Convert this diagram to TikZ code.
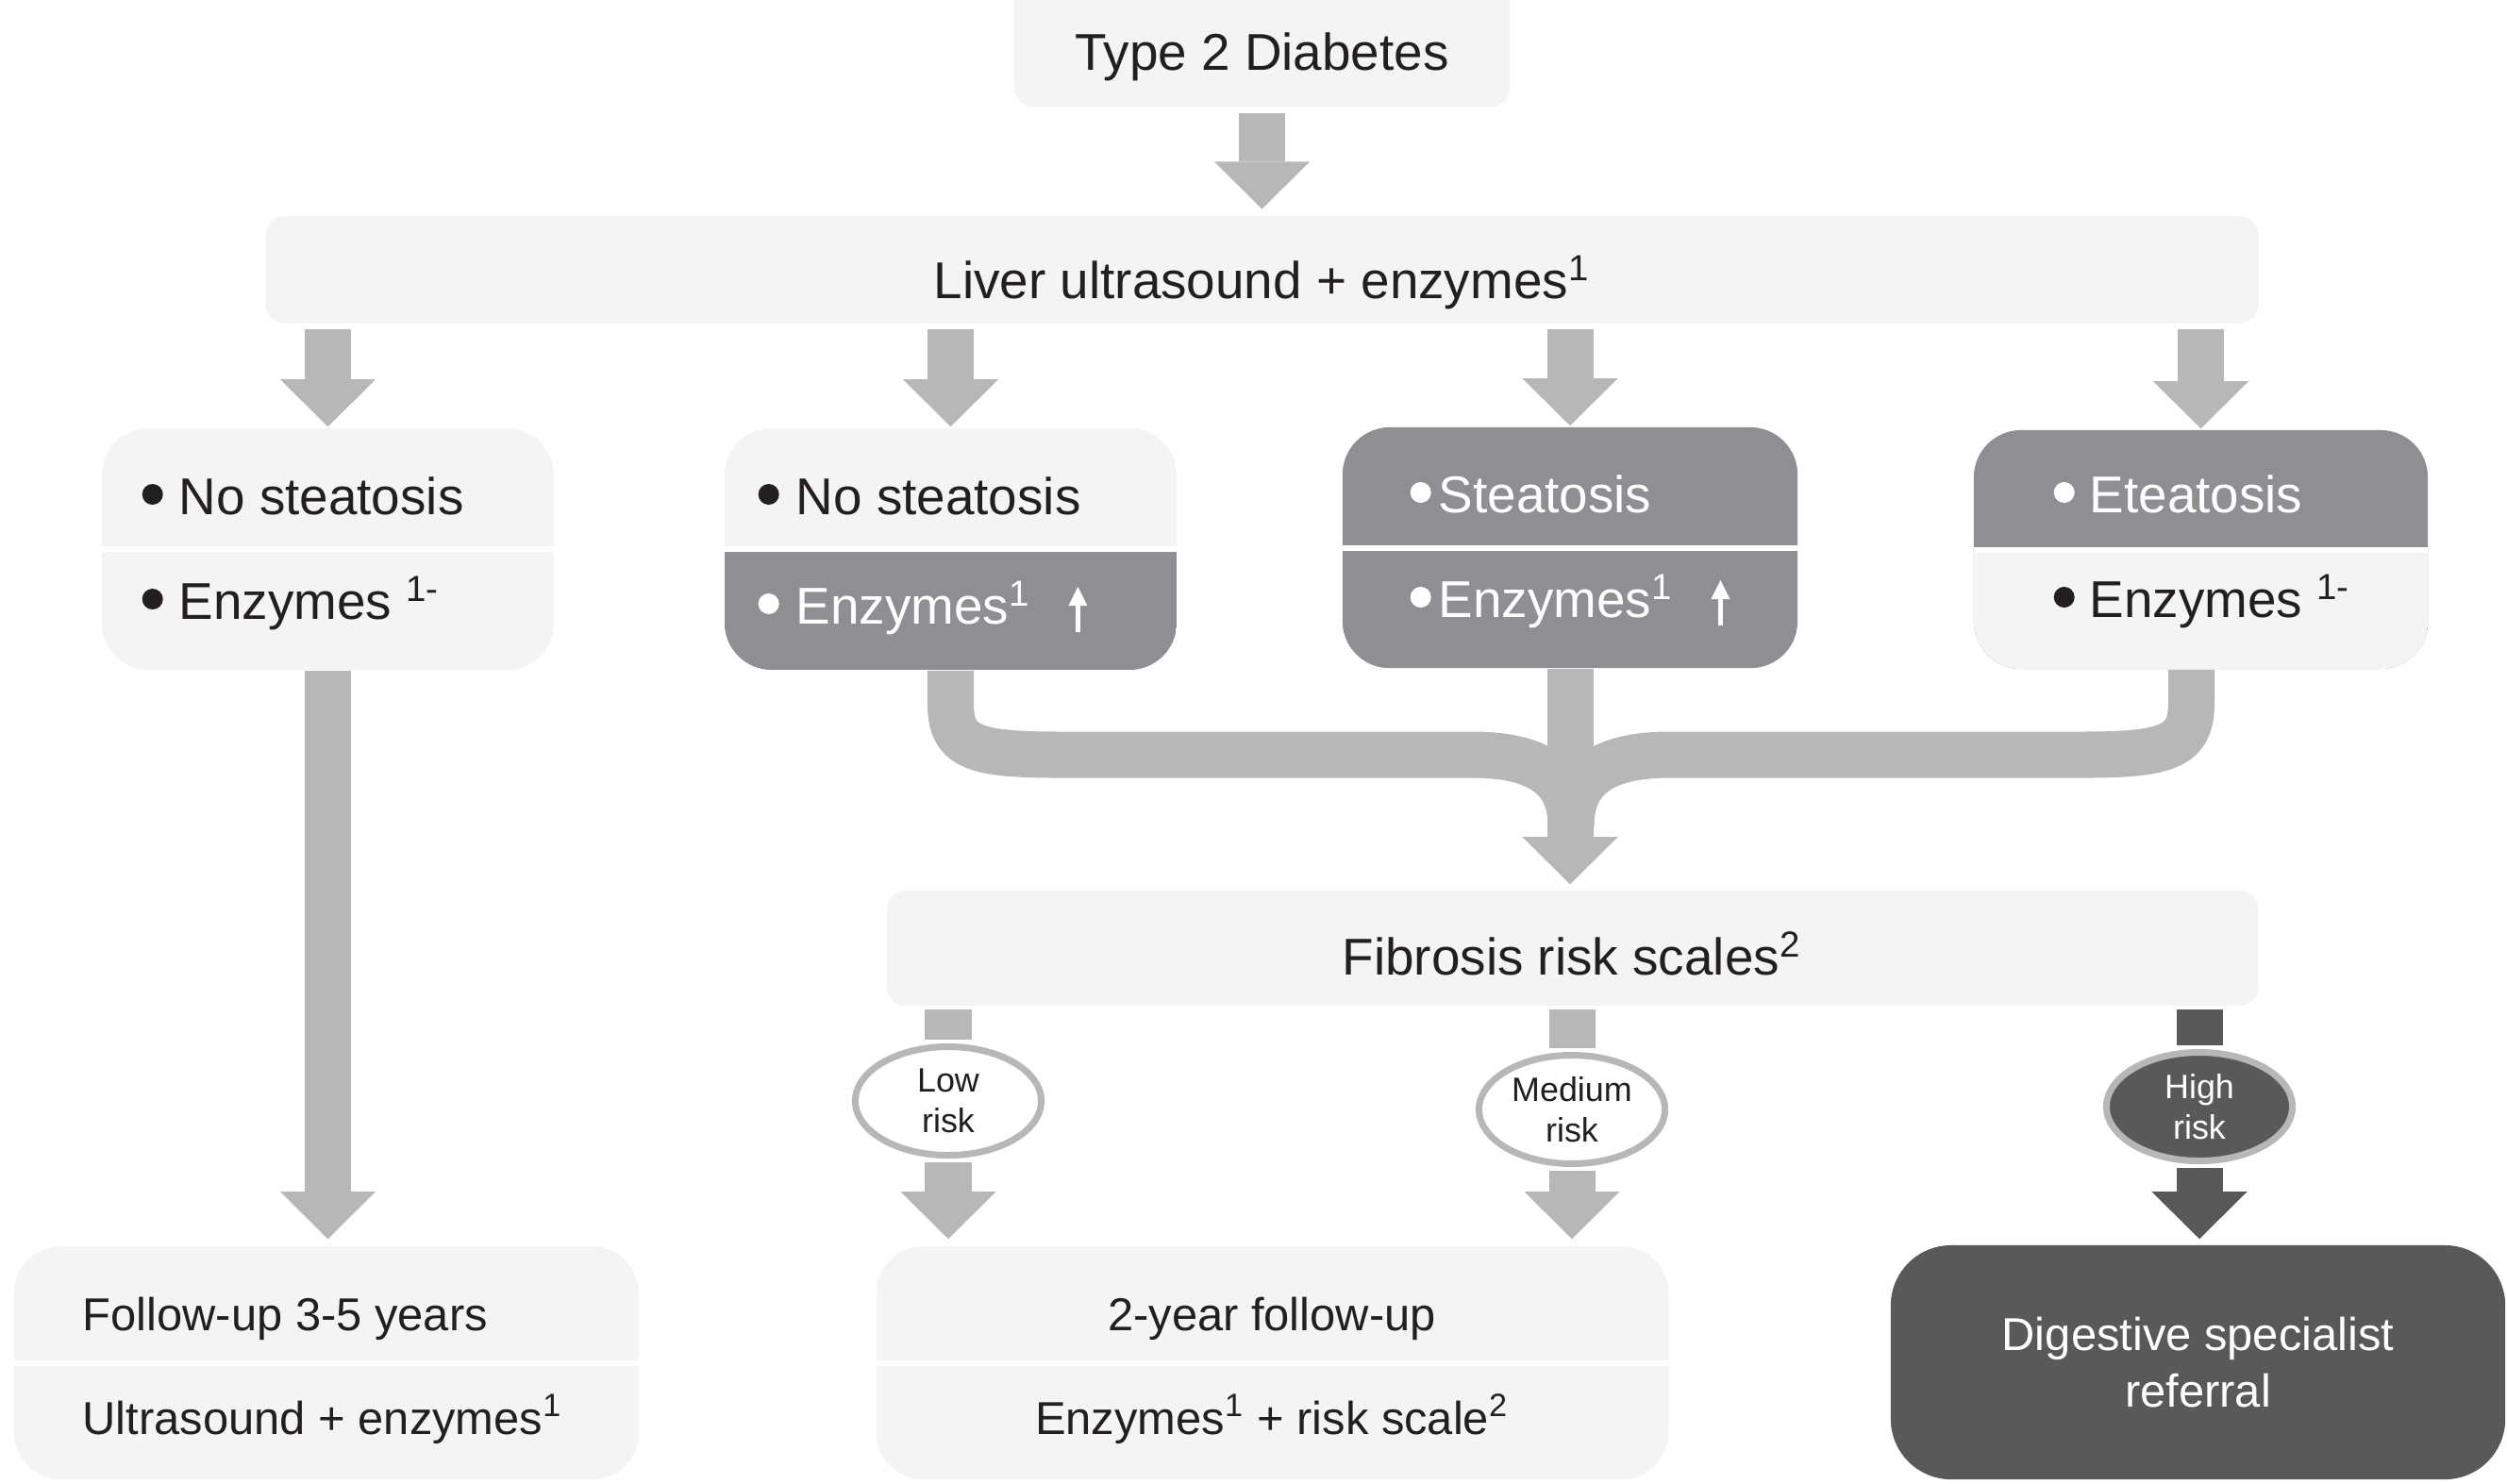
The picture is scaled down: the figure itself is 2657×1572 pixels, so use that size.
\documentclass[tikz,border=0pt]{standalone}
\usepackage{fontspec}
\setmainfont{Liberation Sans}
\usetikzlibrary{arrows.meta,shapes.geometric}

\definecolor{boxlight}{HTML}{F3F4F3}
\definecolor{boxmid}{HTML}{8E8F92}
\definecolor{boxdark}{HTML}{58595B}
\definecolor{arrowgray}{HTML}{B6B7B9}
\definecolor{textblack}{HTML}{231F20}

% punkt og pil i teksten
\newcommand\dotbullet{\tikz[baseline=-0.21cm]\fill (0,0) circle (0.11cm);}
\newcommand\uparr{\tikz[baseline=0.09cm]\draw[line width=0.055cm, -{Triangle[length=0.2cm, width=0.2cm, line width=0pt]}] (0,0) -- (0,0.48cm);}

\tikzset{
  box/.style={rounded corners=0.5cm, inner sep=0pt},
  halves/.style 2 args={fill=#1, path picture={
      \fill[#2, sharp corners] (path picture bounding box.west) rectangle (path picture bounding box.south east);
      \draw[white, line width=0.06cm, sharp corners] (path picture bounding box.west) -- (path picture bounding box.east);}},
  bigarrow/.style={draw=#1, line width=0.49cm, -{Triangle[length=0.5cm, width=1.01cm, line width=0pt]}},
  bigarrow/.default=arrowgray,
  shaft/.style={draw=#1, line width=0.49cm},
  shaft/.default=arrowgray,
  risk/.style={ellipse, draw=arrowgray, line width=0.07cm, fill=white, minimum width=1.97cm, minimum height=1.15cm, inner sep=0pt, align=center, font=\fontsize{10.2}{12.2}\selectfont, text=textblack},
  big/.style={font=\fontsize{15.6}{18}\selectfont, inner sep=0pt, text=textblack},
  small/.style={font=\fontsize{13.9}{17.1}\selectfont, inner sep=0pt, text=textblack}
}

\begin{document}
\begin{tikzpicture}[x=0.01cm, y=-0.01cm]
  \useasboundingbox (0,0) rectangle (2657,1572);

%Bokser
  \node[box, fill=boxlight, rounded corners=0.2cm, minimum width=5.25cm, minimum height=1.53cm] (T2D) at (1337.5,36.5) {};
  \node[box, fill=boxlight, rounded corners=0.2cm, minimum width=21.11cm, minimum height=1.135cm] (liver) at (1337.5,286) {};
  \node[box, halves={boxlight}{boxlight}, minimum width=4.79cm, minimum height=2.56cm] (A) at (347.5,582) {};
  \node[box, halves={boxlight}{boxmid}, minimum width=4.79cm, minimum height=2.56cm] (B) at (1007.5,582) {};
  \node[box, halves={boxmid}{boxmid}, minimum width=4.82cm, minimum height=2.55cm] (C) at (1664,580.5) {};
  \node[box, halves={boxmid}{boxlight}, minimum width=4.81cm, minimum height=2.53cm] (D) at (2332.5,582.5) {};
  \node[box, fill=boxlight, rounded corners=0.2cm, minimum width=14.53cm, minimum height=1.22cm] (fib) at (1666.5,1005) {};
  \node[box, halves={boxlight}{boxlight}, minimum width=6.62cm, minimum height=2.47cm] (E) at (346,1444.5) {};
  \node[box, halves={boxlight}{boxlight}, minimum width=8.39cm, minimum height=2.47cm] (F) at (1348.5,1444.5) {};
  \node[box, fill=boxdark, rounded corners=0.64cm, minimum width=6.51cm, minimum height=2.48cm] (G) at (2329.5,1444) {};

%Piler
  \draw[bigarrow, shorten <=0.06cm, shorten >=0.07cm] (T2D.south) -- (liver.north);
  \foreach \b in {A,B,C,D}
    \draw[bigarrow, shorten <=0.05cm, shorten >=0.01cm] (liver.south -| \b.north) -- (\b.north);
  \draw[bigarrow, shorten >=0.07cm] (A.south) -- (E.north -| A.south);

% Samling
  \draw[shaft] (B.south) -- ++(0,35) .. controls +(0,45) and +(-90,0) .. (1120,800) -- (1560,800) .. controls +(65,0) and +(0,-55) .. (1665,875);
  \draw[shaft] ([xshift=-0.1cm]D.south) -- ++(0,35) .. controls +(0,45) and +(90,0) .. (2210,800) -- (1770,800) .. controls +(-65,0) and +(0,-55) .. (1665,875);
  \draw[bigarrow, shorten >=0.06cm] (C.south) -- (fib.north -| C.south);

%Risiko
  \node[risk] (low) at (1005,1167) {Low\\risk};
  \node[risk] (medium) at (1666,1176) {Medium\\risk};
  \node[risk, fill=boxdark, text=white] (high) at (2331,1173) {High\\risk};
  \draw[shaft, shorten <=0.03cm, shorten >=0.04cm] (fib.south -| low.north) -- (low.north);
  \draw[bigarrow, shorten <=0.04cm, shorten >=0.07cm] (low.south) -- (F.north -| low.south);
  \draw[shaft, shorten <=0.03cm, shorten >=0.04cm] (fib.south -| medium.north) -- (medium.north);
  \draw[bigarrow, shorten <=0.04cm, shorten >=0.07cm] (medium.south) -- (F.north -| medium.south);
  \draw[shaft=boxdark, shorten <=0.03cm, shorten >=0.04cm] (fib.south -| high.north) -- (high.north);
  \draw[bigarrow=boxdark, shorten <=0.04cm, shorten >=0.06cm] (high.south) -- (G.north -| high.south);

%Tekst
  \node[big, anchor=base] (t2dtext) at (1337.5,74) {Type 2 Diabetes};
  \node[big, anchor=base] (livertext) at (1337.5,316) {Liver ultrasound + enzymes\textsuperscript{1}};
  \node[big, anchor=base west] (a1) at (150,545) {\makebox[0.39cm][l]{\dotbullet}No steatosis};
  \node[big, anchor=base west] (a2) at (150,656) {\makebox[0.39cm][l]{\dotbullet}Enzymes \textsuperscript{1-}};
  \node[big, anchor=base west] (b1) at (803,545) {\makebox[0.40cm][l]{\dotbullet}No steatosis};
  \node[big, anchor=base west, text=white] (b2) at (803,661) {\makebox[0.40cm][l]{\dotbullet}Enzymes\textsuperscript{1}\hspace{0.4cm}\uparr};
  \node[big, anchor=base west, text=white] (c1) at (1494,543) {\makebox[0.30cm][l]{\dotbullet}Steatosis};
  \node[big, anchor=base west, text=white] (c2) at (1494,654) {\makebox[0.30cm][l]{\dotbullet}Enzymes\textsuperscript{1}\hspace{0.4cm}\uparr};
  \node[big, anchor=base west, text=white] (d1) at (2176,543) {\makebox[0.38cm][l]{\dotbullet}Eteatosis};
  \node[big, anchor=base west] (d2) at (2176,654) {\makebox[0.38cm][l]{\dotbullet}Enzymes \textsuperscript{1-}};
  \node[big, anchor=base] (fibtext) at (1666,1033) {Fibrosis risk scales\textsuperscript{2}};
  \node[small, anchor=base west] (e1) at (87,1410) {Follow-up 3-5 years};
  \node[small, anchor=base west] (e2) at (87,1520) {Ultrasound + enzymes\textsuperscript{1}};
  \node[small, anchor=base] (f1) at (1348,1410) {2-year follow-up};
  \node[small, anchor=base] (f2) at (1348,1520) {Enzymes\textsuperscript{1} + risk scale\textsuperscript{2}};
  \node[small, align=center, text=white] (gtext) at (2329.5,1444) {Digestive specialist\\referral};

\end{tikzpicture}
\end{document}
